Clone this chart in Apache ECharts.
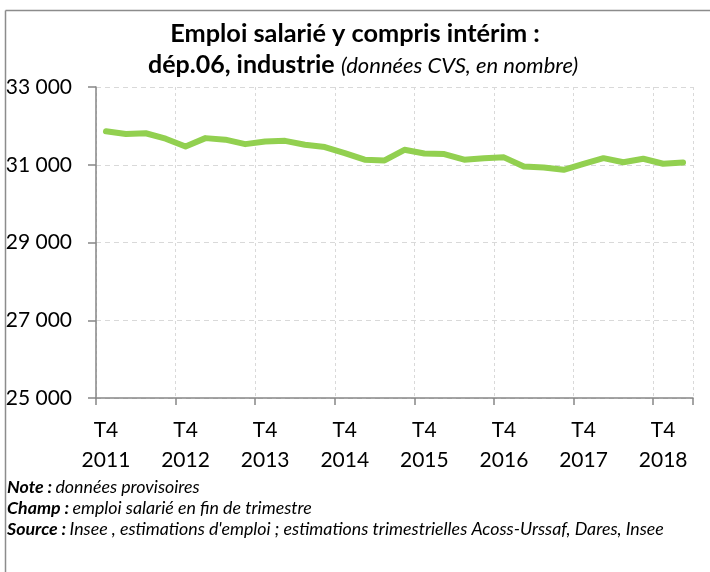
<!DOCTYPE html>
<html>
<head>
<meta charset="utf-8">
<script src="https://cdn.jsdelivr.net/npm/echarts@6/dist/echarts.min.js"></script>
<style>
html,body{margin:0;padding:0;background:#fff;}
#chart{width:710px;height:572px;}
</style>
</head>
<body>
<div id="chart"></div>
<script>
const categories = [
  "T4 2011",
  "T1 2012","T2 2012","T3 2012","T4 2012",
  "T1 2013","T2 2013","T3 2013","T4 2013",
  "T1 2014","T2 2014","T3 2014","T4 2014",
  "T1 2015","T2 2015","T3 2015","T4 2015",
  "T1 2016","T2 2016","T3 2016","T4 2016",
  "T1 2017","T2 2017","T3 2017","T4 2017",
  "T1 2018","T2 2018","T3 2018","T4 2018",
  "T1 2019"
];
const emploi = [
  31860,
  31790,31810,31670,31470,
  31685,31645,31530,31600,
  31615,31515,31455,31300,
  31130,31110,31385,31290,
  31275,31130,31170,31190,
  30955,30930,30870,31025,
  31170,31065,31155,31025,
  31060
];
const yTicks = { min: 25000, max: 33000, interval: 2000 };

const FONT = "Lato";
const chart = echarts.init(document.getElementById('chart'), null, {renderer: 'canvas'});
chart.setOption({
  animation: false,
  backgroundColor: '#ffffff',
  textStyle: { fontFamily: FONT },
  grid: { left: 96, right: 17, top: 87, bottom: 174, containLabel: false },
  graphic: [
    { type: 'line', shape: { x1: 5.5, y1: 10.5, x2: 710, y2: 10.5 }, style: { stroke: '#8c8c8c', lineWidth: 1.5 } },
    { type: 'line', shape: { x1: 5.5, y1: 10.5, x2: 5.5, y2: 572 }, style: { stroke: '#8c8c8c', lineWidth: 1.5 } },
    { type: 'text', left: 'center', top: 21, style: { text: 'Emploi salarié y compris intérim :', font: 'bold 25.3px ' + FONT, fill: '#000' } },
    { type: 'text', left: 148, top: 52, style: {
        text: '{b|dép.06, industrie}{s| }{i|(données CVS, en nombre)}',
        rich: {
          b: { fontFamily: FONT, fontWeight: 'bold', fontSize: 25, color: '#000' },
          s: { fontFamily: FONT, fontSize: 25, color: '#000' },
          i: { fontFamily: FONT, fontStyle: 'italic', fontSize: 22, color: '#000', padding: [3, 0, 0, 0] }
        }
    } },
    { type: 'text', left: 7, top: 478, style: {
        text: '{b|Note :} {i|données provisoires}\n{b|Champ :} {i|emploi salarié en fin de trimestre}\n{b|Source :} {i|Insee , estimations d\'emploi ; estimations trimestrielles Acoss-Urssaf, Dares, Insee}',
        rich: {
          b: { fontFamily: FONT, fontWeight: 'bold', fontStyle: 'italic', fontSize: 17.8, color: '#000', lineHeight: 21 },
          i: { fontFamily: FONT, fontStyle: 'italic', fontSize: 17.8, color: '#000', lineHeight: 21 }
        }
    } }
  ],
  xAxis: {
    type: 'category',
    data: categories,
    boundaryGap: true,
    axisLine: { show: true, lineStyle: { color: '#868686', width: 1.5 } },
    axisTick: { show: true, interval: 3, length: 7, lineStyle: { color: '#868686', width: 1.5 } },
    axisLabel: {
      interval: 3,
      margin: 17,
      fontSize: 21,
      lineHeight: 30,
      color: '#000',
      fontFamily: FONT,
      formatter: v => v.replace(' ', '\n')
    },
    splitLine: { show: true, interval: 3, lineStyle: { color: '#d9d9d9', type: [3, 3], width: 1 } }
  },
  yAxis: {
    type: 'value',
    min: yTicks.min, max: yTicks.max, interval: yTicks.interval,
    axisLine: { show: true, lineStyle: { color: '#868686', width: 1.5 } },
    axisTick: { show: true, length: 8, lineStyle: { color: '#868686', width: 1.5 } },
    axisLabel: {
      margin: 24, fontSize: 21, color: '#000', fontFamily: FONT,
      formatter: v => String(v).replace(/\B(?=(\d{3})+(?!\d))/g, ' ')
    },
    splitLine: { show: true, lineStyle: { color: '#d9d9d9', type: [5, 4], width: 1 } }
  },
  series: [{
    type: 'line',
    data: emploi,
    symbol: 'none',
    smooth: false,
    lineStyle: { color: '#92d050', width: 6, cap: 'round', join: 'round' },
    itemStyle: { color: '#92d050' }
  }]
});
</script>
</body>
</html>
